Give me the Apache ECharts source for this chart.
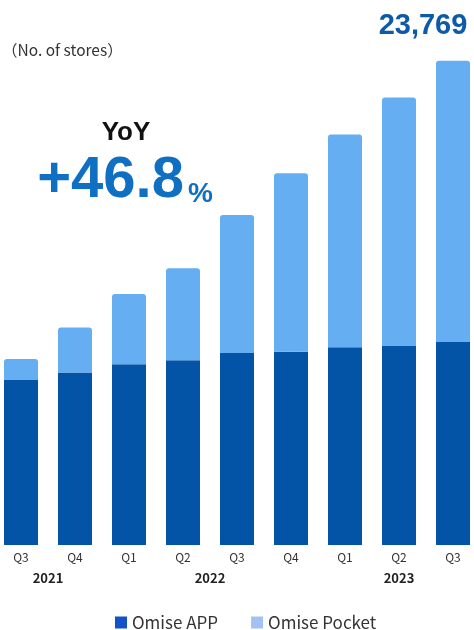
<!DOCTYPE html>
<html>
<head>
<meta charset="utf-8">
<script src="https://cdn.jsdelivr.net/npm/echarts@6/dist/echarts.min.js"></script>
<style>
  html, body { margin: 0; padding: 0; background: #ffffff; }
  #chart { width: 474px; height: 630px; }
</style>
</head>
<body>
<div id="chart"></div>
<script>
// Quarterly store counts by product
const quarters = ['Q3', 'Q4', 'Q1', 'Q2', 'Q3', 'Q4', 'Q1', 'Q2', 'Q3'];
const omiseApp = [8100, 8460, 8870, 9070, 9420, 9490, 9700, 9770, 9960];
const omisePocket = [1030, 2210, 3450, 4510, 6770, 8750, 10450, 12190, 13809];
const yearGroups = [
  { year: '2021', from: 0, to: 1 },
  { year: '2022', from: 2, to: 5 },
  { year: '2023', from: 6, to: 8 }
];
const yoyText = '+46.8';

const last = quarters.length - 1;
const latestTotal = omiseApp[last] + omisePocket[last];

const chart = echarts.init(document.getElementById('chart'), null, { renderer: 'canvas' });

const option = {
  backgroundColor: '#ffffff',
  animation: false,
  grid: { left: 21, right: 21, top: 35.6, bottom: 85, containLabel: false },
  xAxis: {
    type: 'category',
    data: quarters,
    boundaryGap: false,
    axisLine: { show: false },
    axisTick: { show: false },
    axisLabel: {
      margin: 6,
      color: '#333333',
      fontSize: 12,
      fontFamily: '"Noto Sans CJK JP", "Noto Sans", sans-serif'
    }
  },
  yAxis: {
    type: 'value',
    min: 0,
    max: 25000,
    show: false,
    splitLine: { show: false }
  },
  legend: {
    left: 110,
    top: 609,
    icon: 'rect',
    itemWidth: 12,
    itemHeight: 12,
    itemGap: 33,
    textStyle: {
      color: '#333333',
      fontSize: 17,
      fontFamily: '"Noto Sans CJK JP", "Noto Sans", sans-serif'
    },
    data: [
      { name: 'Omise APP', itemStyle: { color: '#1450c8' } },
      { name: 'Omise Pocket', itemStyle: { color: '#a2c3f2' } }
    ]
  },
  series: [
    {
      name: 'Omise APP',
      type: 'bar',
      stack: 'stores',
      data: omiseApp,
      barWidth: 34,
      itemStyle: { color: '#0354a6' }
    },
    {
      name: 'Omise Pocket',
      type: 'bar',
      stack: 'stores',
      data: omisePocket.map((v, i) => i === last ? {
        value: v,
        label: {
          show: true,
          position: 'top',
          distance: 20,
          offset: [-30, 0],
          formatter: () => latestTotal.toLocaleString('en-US'),
          color: '#0d5aa9',
          fontSize: 29,
          fontWeight: 'bold',
          fontFamily: '"Liberation Sans", Arial, sans-serif'
        }
      } : v),
      barWidth: 34,
      itemStyle: { color: '#66aef2', borderRadius: [3, 3, 0, 0] }
    }
  ]
};

chart.setOption(option);

// Year captions centred under each year's quarters, plus the headline texts
const yearTexts = yearGroups.map(g => {
  const x = (chart.convertToPixel({ xAxisIndex: 0 }, g.from) + chart.convertToPixel({ xAxisIndex: 0 }, g.to)) / 2;
  return {
    type: 'text',
    x: x,
    y: 578,
    style: {
      text: g.year,
      textAlign: 'center',
      textVerticalAlign: 'middle',
      fill: '#222222',
      fontSize: 13,
      fontWeight: 'bold',
      fontFamily: '"Noto Sans CJK JP", "Noto Sans", sans-serif'
    }
  };
});

chart.setOption({
  graphic: [
    {
      type: 'text',
      x: 2,
      y: 50,
      style: {
        text: '（No. of stores）',
        textVerticalAlign: 'middle',
        fill: '#333333',
        fontSize: 15.5,
        fontFamily: '"Noto Sans CJK JP", "Noto Sans", sans-serif'
      }
    },
    {
      type: 'text',
      x: 126,
      y: 133,
      style: {
        text: 'YoY',
        textAlign: 'center',
        textVerticalAlign: 'middle',
        fill: '#111111',
        fontSize: 26,
        fontWeight: 'bold',
        fontFamily: '"Liberation Sans", Arial, sans-serif'
      }
    },
    {
      type: 'text',
      x: 125,
      y: 210,
      style: {
        text: '{a|' + yoyText + '}{b|%}',
        textAlign: 'center',
        textVerticalAlign: 'bottom',
        rich: {
          a: {
            fill: '#0f6fc3',
            fontSize: 58,
            fontWeight: 'bold',
            fontFamily: '"Liberation Sans", Arial, sans-serif',
            verticalAlign: 'bottom'
          },
          b: {
            fill: '#0f6fc3',
            fontSize: 28,
            fontWeight: 'bold',
            fontFamily: '"Liberation Sans", Arial, sans-serif',
            verticalAlign: 'bottom',
            padding: [0, 0, 2, 4]
          }
        }
      }
    }
  ].concat(yearTexts)
});
</script>
</body>
</html>
